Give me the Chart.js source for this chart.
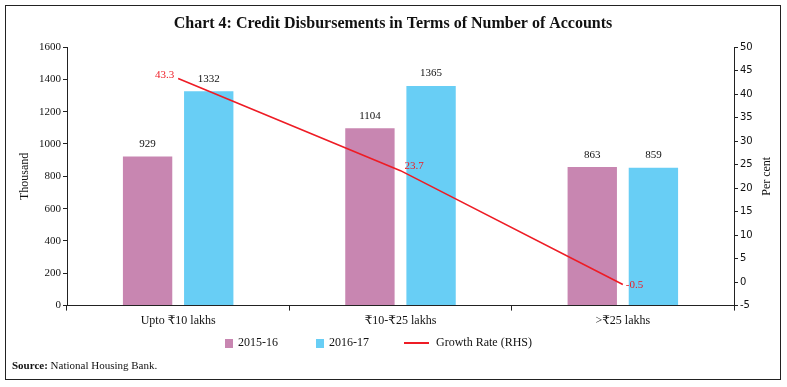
<!DOCTYPE html>
<html>
<head>
<meta charset="utf-8">
<script src="https://cdn.jsdelivr.net/npm/chart.js@4.4.0/dist/chart.umd.min.js"></script>
<style>
  html, body { margin: 0; padding: 0; background: #fff; }
  #wrap { width: 787px; height: 387px; position: relative; }
</style>
</head>
<body>
<div id="wrap"><canvas id="myChart" width="787" height="387"></canvas></div>
<script>
// dados do gráfico
const categorias = ['Upto \u20B910 lakhs', '\u20B910-\u20B925 lakhs', '>\u20B925 lakhs']
const contas2015 = [929, 1104, 863]
const contas2016 = [1332, 1365, 859]
const taxaCrescimento = [43.3, 23.7, -0.5]
const ticksEsquerda = [0, 1600, 200]
const ticksDireita = [-5, 50, 5]

const rosa = '#C886B1'
const azul = '#68CEF5'
const vermelho = '#EE1C25'
const serif = '"Liberation Serif", "DejaVu Serif", serif'

// rótulos, moldura, título, legenda e fonte
const extras = {
  id: 'extras',
  afterDatasetsDraw(chart) {
    const ctx = chart.ctx
    ctx.save()
    // rótulos das barras
    ctx.font = '11px ' + serif
    ctx.fillStyle = '#111'
    ctx.textAlign = 'center'
    ctx.textBaseline = 'bottom'
    ;[0, 1].forEach(i => {
      chart.getDatasetMeta(i).data.forEach((bar, j) => {
        ctx.fillText(chart.data.datasets[i].data[j], bar.x, bar.y - 6)
      })
    })
    // rótulos da linha
    ctx.fillStyle = vermelho
    ctx.textBaseline = 'middle'
    const pts = chart.getDatasetMeta(2).data
    ctx.textAlign = 'right'
    ctx.fillText(taxaCrescimento[0], pts[0].x - 4, pts[0].y - 3)
    ctx.textAlign = 'left'
    ctx.fillText(taxaCrescimento[1], pts[1].x + 4, pts[1].y - 5)
    ctx.fillText(taxaCrescimento[2], pts[2].x + 3, pts[2].y + 1)
    ctx.restore()
  },
  afterDraw(chart) {
    const ctx = chart.ctx
    const area = chart.chartArea
    const meio = (area.top + area.bottom) / 2
    ctx.save()
    // moldura
    ctx.strokeStyle = '#222'
    ctx.lineWidth = 1
    ctx.strokeRect(5.5, 5.5, 775, 374)
    // título
    ctx.fillStyle = '#111'
    ctx.font = 'bold 16px ' + serif
    ctx.textAlign = 'center'
    ctx.textBaseline = 'middle'
    ctx.fillText('Chart 4: Credit Disbursements in Terms of Number of Accounts', 393, 24)
    // títulos dos eixos
    ctx.font = '12px ' + serif
    ctx.save()
    ctx.translate(25, meio)
    ctx.rotate(-Math.PI / 2)
    ctx.fillText('Thousand', 0, 0)
    ctx.restore()
    ctx.save()
    ctx.translate(767, meio)
    ctx.rotate(-Math.PI / 2)
    ctx.fillText('Per cent', 0, 0)
    ctx.restore()
    // legenda
    ctx.textAlign = 'left'
    const ly = 343
    ctx.fillStyle = rosa
    ctx.fillRect(225, ly - 4, 8, 9)
    ctx.fillStyle = '#111'
    ctx.fillText(chart.data.datasets[0].label, 238, ly)
    ctx.fillStyle = azul
    ctx.fillRect(316, ly - 4, 8, 9)
    ctx.fillStyle = '#111'
    ctx.fillText(chart.data.datasets[1].label, 329, ly)
    ctx.strokeStyle = vermelho
    ctx.lineWidth = 2
    ctx.beginPath()
    ctx.moveTo(404, ly)
    ctx.lineTo(429, ly)
    ctx.stroke()
    ctx.fillText(chart.data.datasets[2].label, 436, ly)
    // fonte
    ctx.font = 'bold 11px ' + serif
    ctx.fillText('Source:', 12, 366)
    const w = ctx.measureText('Source: ').width
    ctx.font = '11px ' + serif
    ctx.fillText('National Housing Bank.', 12 + w, 366)
    ctx.restore()
  }
}

const ctx = document.getElementById('myChart')
new Chart(ctx, {
  type: 'bar',
  data: {
    labels: categorias,
    datasets: [
      { label: '2015-16', data: contas2015, backgroundColor: rosa, borderColor: '#fff', borderWidth: 1,
        yAxisID: 'y', order: 2, categoryPercentage: 0.55, barPercentage: 0.84 },
      { label: '2016-17', data: contas2016, backgroundColor: azul, borderColor: '#fff', borderWidth: 1,
        yAxisID: 'y', order: 2, categoryPercentage: 0.55, barPercentage: 0.84 },
      { type: 'line', label: 'Growth Rate (RHS)', data: taxaCrescimento, borderColor: vermelho,
        backgroundColor: vermelho, borderWidth: 1.6, pointRadius: 0, yAxisID: 'y1', order: 1 }
    ]
  },
  plugins: [extras],
  options: {
    responsive: false,
    animation: false,
    layout: { padding: { left: 6, right: 6, top: 47, bottom: 56 } },
    plugins: { legend: { display: false }, tooltip: { enabled: false } },
    scales: {
      x: {
        grid: { display: true, drawOnChartArea: false, color: '#222', tickLength: 5 },
        border: { color: '#222' },
        ticks: { color: '#111', font: { family: serif, size: 12 }, padding: 3, maxRotation: 0 }
      },
      y: {
        position: 'left',
        min: ticksEsquerda[0], max: ticksEsquerda[1],
        afterFit: s => { s.width = 61 },
        grid: { display: true, drawOnChartArea: false, color: '#222', tickLength: 4 },
        border: { color: '#222' },
        ticks: { stepSize: ticksEsquerda[2], color: '#111', font: { family: serif, size: 11 }, padding: 2,
          callback: v => String(v) }
      },
      y1: {
        position: 'right',
        min: ticksDireita[0], max: ticksDireita[1],
        afterFit: s => { s.width = 47 },
        grid: { display: true, drawOnChartArea: false, color: '#222', tickLength: 4 },
        border: { color: '#222' },
        ticks: { stepSize: ticksDireita[2], color: '#111', font: { family: '"DejaVu Sans", sans-serif', size: 10 }, padding: 2 }
      }
    }
  }
})
</script>
</body>
</html>
